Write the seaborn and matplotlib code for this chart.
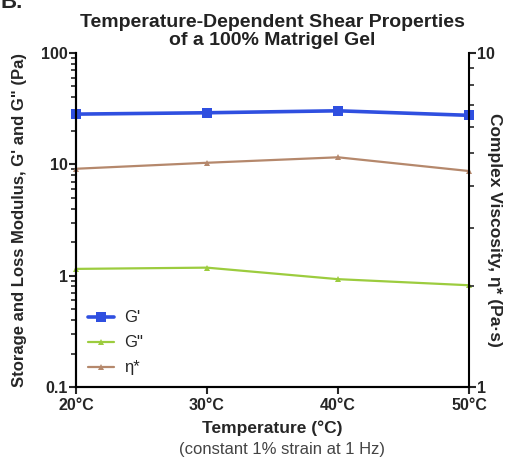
import seaborn as sns
import matplotlib.pyplot as plt
import matplotlib.ticker as mticker
import pandas as pd

# data
temps = [20, 30, 40, 50]
temp_labels = ["20°C", "30°C", "40°C", "50°C"]
g_storage = [28.2, 29.0, 30.2, 27.5]    # G' (Pa)
g_loss = [1.15, 1.18, 0.93, 0.82]       # G'' (Pa)
eta_star = [4.50, 4.69, 4.87, 4.43]     # complex viscosity (Pa.s)

sns.set_style("ticks")
plt.rcParams["font.family"] = ["Liberation Sans", "DejaVu Sans"]

fig = plt.figure(figsize=(5.27, 4.68), dpi=100)
ax = fig.add_axes([0.144, 0.173, 0.746, 0.714])
ax2 = ax.twinx()

df = pd.DataFrame({"T": temps, "G'": g_storage, 'G"': g_loss})

sns.lineplot(data=df, x="T", y="G'", ax=ax, color="#2f4fe0", lw=2.6,
             marker="s", markersize=7, markeredgewidth=0, label="G'", clip_on=False)
sns.lineplot(data=df, x="T", y='G"', ax=ax, color="#9ccc3e", lw=1.6,
             marker="^", markersize=4, markeredgewidth=0, label='G"', clip_on=False)
sns.lineplot(x=temps, y=eta_star, ax=ax2, color="#b5886c", lw=1.6,
             marker="^", markersize=4, markeredgewidth=0, clip_on=False, legend=False)

ax.set_yscale("log")
ax.set_ylim(0.1, 100)
ax.set_xlim(20, 50)
ax2.set_yscale("log")
ax2.set_ylim(1, 10)

ax.set_xticks(temps)
ax.set_xticklabels(temp_labels, fontweight="bold", fontsize=11.5)
ax.yaxis.set_major_formatter(mticker.FuncFormatter(lambda v, p: f"{v:g}"))
for lab in ax.get_yticklabels():
    lab.set_fontweight("bold")
ax.tick_params(axis="y", labelsize=11.5, width=1.5, length=5, pad=1)
ax.tick_params(axis="y", which="minor", width=1.2, length=3.5)
ax.tick_params(axis="x", width=1.5, length=5, pad=3)

ax2.yaxis.set_major_formatter(mticker.FuncFormatter(lambda v, p: f"{v:g}"))
ax2.yaxis.set_minor_formatter(mticker.NullFormatter())
ax2.tick_params(axis="y", labelsize=11.5, width=1.5, length=5, pad=1)
ax2.tick_params(axis="y", which="minor", width=1.2, length=3.5)
for lab in ax2.get_yticklabels():
    lab.set_fontweight("bold")

for a in (ax, ax2):
    a.spines["top"].set_visible(False)
    for s in ("left", "right", "bottom"):
        a.spines[s].set_linewidth(1.5)
        a.spines[s].set_color("black")
ax.spines["right"].set_visible(False)

# legend with eta* added
h, l = ax.get_legend_handles_labels()
h2 = ax2.get_lines()[0]
ax.legend(h + [h2], ["G'", 'G"', "η*"], loc="lower left", frameon=False,
          fontsize=12, handlelength=1.6, borderaxespad=0.3,
          bbox_to_anchor=(0.0, 0.0), labelspacing=0.6, handletextpad=0.6)

ax.set_xlabel("Temperature (°C)", fontweight="bold", fontsize=12.5, labelpad=5)
ax.set_ylabel("Storage and Loss Modulus, G' and G\" (Pa)", fontweight="bold",
              fontsize=12, labelpad=10)
ax2.set_ylabel("Complex Viscosity, η* (Pa·s)", fontweight="bold",
               fontsize=12.5, rotation=270, labelpad=14)
ax2.yaxis.set_label_coords(1.085, 0.47)
fig.text(0.535, 0.030, "(constant 1% strain at 1 Hz)", ha="center",
         fontsize=12, color="#444444")

ax.set_title("Temperature-Dependent Shear Properties\nof a 100% Matrigel Gel",
             fontweight="bold", fontsize=14, pad=6, color="#222222",
             linespacing=1.05)
fig.text(0.0, 0.995, "B.", fontweight="bold", fontsize=16, va="center")

plt.savefig("out.png", dpi=100)
